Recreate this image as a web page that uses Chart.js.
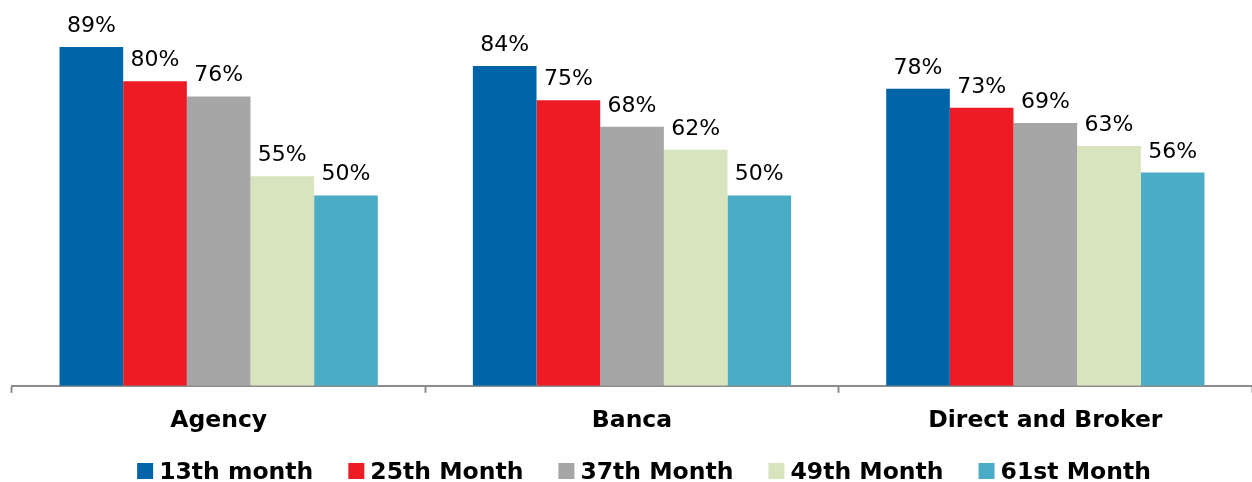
<!DOCTYPE html>
<html>
<head>
<meta charset="utf-8">
<script src="https://cdn.jsdelivr.net/npm/chart.js@4/dist/chart.umd.min.js"></script>
<style>
  html, body { margin: 0; padding: 0; background: #fff; overflow: hidden; }
  #wrap { width: 1252px; height: 482px; }
</style>
</head>
<body>
<div id="wrap"><canvas id="c" width="1252" height="482"></canvas></div>
<script>
// Persistency ratios by distribution channel
const categories = ['Agency', 'Banca', 'Direct and Broker'];
const seriesNames = ['13th month', '25th Month', '37th Month', '49th Month', '61st Month'];
const month13 = [89, 84, 78];
const month25 = [80, 75, 73];
const month37 = [76, 68, 69];
const month49 = [55, 62, 63];
const month61 = [50, 50, 56];

const seriesValues = [month13, month25, month37, month49, month61];
const seriesColors = ['#0064A8', '#ED1C24', '#A6A6A6', '#D8E4BD', '#4BACC6'];

const FONT = 'DejaVu Sans, Verdana, sans-serif';

// Draws the percentage above each bar
const valueLabels = {
  id: 'valueLabels',
  afterDatasetsDraw(chart) {
    const ctx = chart.ctx;
    ctx.save();
    ctx.font = '22px ' + FONT;
    ctx.fillStyle = '#000';
    ctx.textAlign = 'center';
    ctx.textBaseline = 'alphabetic';
    chart.data.datasets.forEach((ds, i) => {
      const meta = chart.getDatasetMeta(i);
      meta.data.forEach((bar, j) => {
        ctx.fillText(ds.data[j] + '%', bar.x, bar.y - 15);
      });
    });
    ctx.restore();
  }
};

// Compact legend row: square swatch, short gap, bold name, wide gap between entries
const bottomLegend = {
  id: 'bottomLegend',
  afterDraw(chart) {
    const ctx = chart.ctx;
    const box = 16, gap = 6, spacing = 35;
    const baseline = 479;
    ctx.save();
    ctx.font = 'bold 23.5px ' + FONT;
    ctx.textBaseline = 'alphabetic';
    ctx.textAlign = 'left';
    const items = chart.data.datasets.map(ds => ({
      text: ds.label,
      color: ds.backgroundColor,
      w: box + gap + ctx.measureText(ds.label).width
    }));
    const total = items.reduce((s, it) => s + it.w, 0) + spacing * (items.length - 1);
    const centre = (chart.chartArea.left + chart.chartArea.right) / 2 + 12;
    let x = centre - total / 2;
    items.forEach(it => {
      ctx.fillStyle = it.color;
      ctx.fillRect(x, baseline - box, box, box);
      ctx.fillStyle = '#000';
      ctx.fillText(it.text, x + box + gap, baseline);
      x += it.w + spacing;
    });
    ctx.restore();
  }
};

new Chart(document.getElementById('c'), {
  type: 'bar',
  data: {
    labels: categories,
    datasets: seriesValues.map((vals, i) => ({
      label: seriesNames[i],
      data: vals,
      backgroundColor: seriesColors[i],
      borderWidth: 0,
      categoryPercentage: 0.77,
      barPercentage: 1.0
    }))
  },
  options: {
    responsive: false,
    animation: false,
    devicePixelRatio: 1,
    layout: { padding: { left: 12, right: 0, top: 5, bottom: 33 } },
    scales: {
      x: {
        offset: true,
        grid: {
          display: true,
          offset: true,
          drawOnChartArea: false,
          drawTicks: true,
          tickLength: 7,
          tickWidth: 2,
          tickColor: '#8C8C8C',
          color: '#8C8C8C'
        },
        border: { display: true, color: '#8C8C8C', width: 2 },
        ticks: {
          color: '#000',
          padding: 14,
          font: { family: FONT, size: 23.5, weight: 'bold' }
        }
      },
      y: {
        display: false,
        min: 0,
        max: 100
      }
    },
    plugins: {
      tooltip: { enabled: false },
      legend: { display: false }
    }
  },
  plugins: [valueLabels, bottomLegend]
});
</script>
</body>
</html>
